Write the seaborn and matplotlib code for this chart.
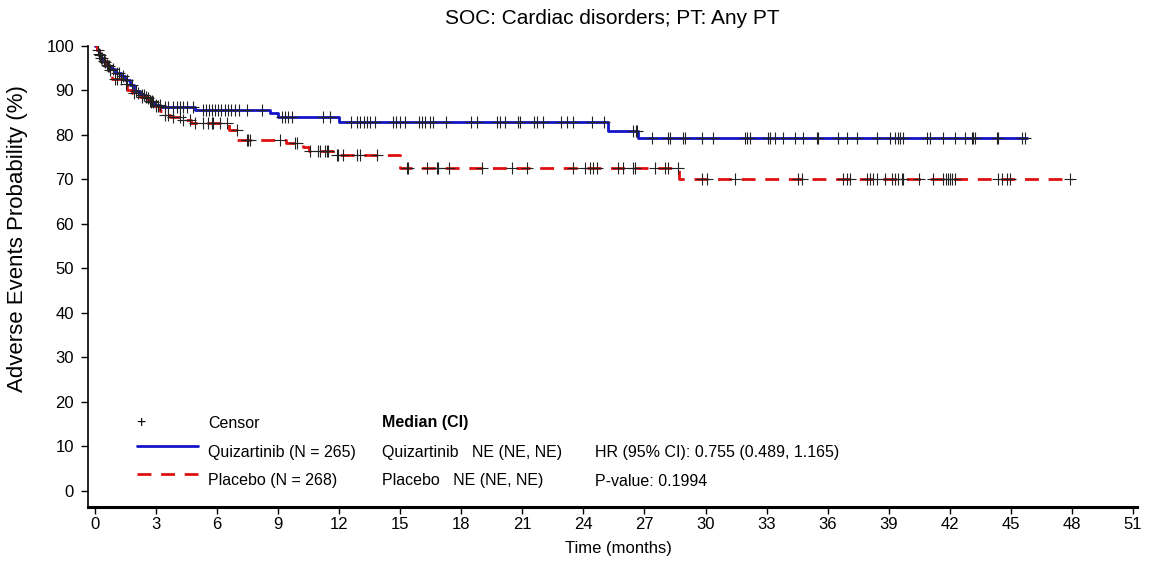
import numpy as np
import pandas as pd
import matplotlib
matplotlib.use("Agg")
import matplotlib.pyplot as plt
import seaborn as sns
from matplotlib.lines import Line2D

sns.set_style("ticks")
plt.rcParams['font.family'] = ['Liberation Sans', 'DejaVu Sans']
plt.rcParams['text.color'] = 'black'
plt.rcParams['axes.labelcolor'] = 'black'
plt.rcParams['xtick.color'] = 'black'
plt.rcParams['ytick.color'] = 'black'
plt.rcParams['axes.edgecolor'] = 'black'

# Kaplan-Meier step data (months, % without event)
quiz_time = [0, 0.1, 0.2, 0.3, 0.45, 0.6, 0.8, 1.0, 1.3, 1.5, 1.7, 1.9, 2.2, 2.5,
             2.7, 2.9, 3.2, 4.9, 8.6, 9.0, 12.0, 25.2, 26.7]
quiz_surv = [100, 99.0, 98.0, 97.2, 96.4, 95.6, 94.8, 94.0, 93.2, 92.4, 91.2, 89.9,
             89.0, 88.3, 87.5, 86.8, 86.4, 85.6, 84.9, 84.0, 82.9, 81.0, 79.4]
quiz_end = 45.8

plac_time = [0, 0.1, 0.2, 0.3, 0.4, 0.55, 0.7, 0.85, 1.5, 1.6, 1.8, 2.2, 2.6, 2.9,
             3.2, 3.4, 3.7, 4.2, 4.7, 6.6, 7.0, 9.4, 10.2, 10.5, 11.7, 15.0, 28.7]
plac_surv = [100, 99.2, 98.3, 97.4, 96.6, 95.8, 94.6, 92.6, 91.5, 90.2, 89.4, 88.6,
             87.6, 86.5, 85.4, 84.6, 84.1, 83.4, 82.6, 81.1, 78.9, 78.1, 77.4, 76.3,
             75.4, 72.5, 70.1]
plac_end = 48.0

# censored times
quiz_cens = [0.15, 0.25, 0.35, 0.5, 0.65, 0.7, 0.9, 1.1, 1.2, 1.4, 1.6, 1.8, 2.0,
             2.3, 2.4, 2.6, 2.75, 2.85, 3.0,
             3.19, 3.44, 3.6, 3.85, 4.01, 4.18, 4.34, 4.5, 4.83,
             5.3, 5.45, 5.6, 5.75, 5.9, 6.05, 6.2, 6.4, 6.55, 6.7, 6.9, 7.1, 7.45, 8.2,
             9.17, 9.34, 9.5, 9.67, 11.2, 11.55,
             12.6, 12.86, 13.0, 13.2, 13.35, 13.5, 13.76, 14.66, 14.8, 15.0, 15.23,
             15.9, 16.05, 16.2, 16.46, 16.6, 17.27, 18.5, 18.75, 19.74, 19.9, 20.15,
             20.8, 20.9, 21.55, 21.7, 22.0, 22.9, 23.2, 23.5, 24.4, 25.0,
             26.45, 26.6, 26.65,
             27.35, 28.17, 28.26, 28.91, 28.99, 29.81, 30.38, 31.94, 32.02, 32.19,
             33.09, 33.17, 33.42, 33.82, 34.4, 34.8, 35.46, 35.54, 36.53, 36.94,
             37.43, 38.41, 39.08, 39.31, 39.47, 39.56, 39.72, 40.87, 41.03, 41.68,
             42.26, 42.75, 43.08, 43.16, 43.24, 44.31, 44.39, 45.54, 45.7]
plac_cens = [0.2, 0.3, 0.45, 0.6, 0.75, 1.0, 1.1, 1.3, 1.55, 1.9, 2.1, 2.3, 2.5,
             2.7, 2.8, 3.0, 3.1,
             3.44, 3.6, 3.85, 4.18, 4.34, 4.67, 4.91, 5.32, 5.57, 5.73, 5.81,
             6.14, 6.47, 6.96, 7.45, 7.53, 7.62, 9.09, 9.83, 9.91,
             10.57, 10.97, 11.06, 11.3, 11.38, 11.46, 11.88, 11.96, 12.2, 12.86,
             13.02, 13.84,
             15.32, 15.4, 16.3, 16.79, 16.87, 17.4, 19.0, 20.47, 21.21, 23.5, 24.08,
             24.32, 24.49, 24.65, 25.71, 25.96, 26.45, 26.54, 27.52, 28.0, 28.17,
             28.66,
             29.81, 30.06, 31.45, 34.56, 34.73, 36.77, 36.94, 37.1, 37.92, 38.08,
             38.25, 38.41, 38.82, 39.15, 39.3, 39.47, 39.64, 39.72, 40.5, 41.2, 41.68,
             41.8, 41.9, 42.0, 42.1, 42.26, 44.39, 44.55, 44.8, 44.96, 47.9]

arms = ['Quizartinib', 'Placebo']
colors = {'Quizartinib': '#1414C8', 'Placebo': '#E01010'}
dash = (5, 3.5)


def step_frame(arm, times, surv, end):
    t = list(times) + [end]
    s = list(surv) + [surv[-1]]
    return pd.DataFrame({'time': t, 'surv': s, 'arm': arm})


def censor_frame(arm, times, surv, cens):
    idx = np.searchsorted(times, cens, side='right') - 1
    return pd.DataFrame({'time': cens, 'surv': np.array(surv)[idx], 'arm': arm})


curves = pd.concat([step_frame('Quizartinib', quiz_time, quiz_surv, quiz_end),
                    step_frame('Placebo', plac_time, plac_surv, plac_end)])
censors = pd.concat([censor_frame('Quizartinib', quiz_time, quiz_surv, quiz_cens),
                     censor_frame('Placebo', plac_time, plac_surv, plac_cens)])

W, H = 1154, 562
fig = plt.figure(figsize=(W / 100, H / 100), dpi=100)
ax = fig.add_axes([88 / W, 1 - 507 / H, (1137 - 88) / W, (507 - 46) / H])


def px(x, y):
    return x / W, 1 - y / H


sns.lineplot(data=curves, x='time', y='surv', hue='arm', style='arm',
             hue_order=arms, style_order=arms, palette=colors,
             dashes={'Quizartinib': '', 'Placebo': dash},
             drawstyle='steps-post', estimator=None, sort=False,
             linewidth=2.0, legend=False, ax=ax)
ax.plot(censors['time'], censors['surv'], linestyle='none', marker='+',
        markersize=8, markeredgewidth=0.8, color='#222222', zorder=5)

ax.set_xlim(-0.34, 51.2)
ax.set_ylim(-3.6, 100)
ax.set_xticks(np.arange(0, 52, 3))
ax.set_yticks(np.arange(0, 101, 10))
ax.tick_params(direction='out', length=5, width=1, labelsize=12)
ax.tick_params(axis='x', pad=2)
ax.tick_params(axis='y', pad=5)
sns.despine(ax=ax)
ax.spines['bottom'].set_linewidth(2.2)
ax.spines['left'].set_linewidth(1.2)
ax.grid(False)

ax.set_title('SOC: Cardiac disorders; PT: Any PT', fontsize=15, pad=16)
ax.set_xlabel('Time (months)', fontsize=12)
ax.set_ylabel('')
ax.xaxis.set_label_coords(0.506, -0.074)
fig.text(*px(18, 239), 'Adverse Events Probability (%)', fontsize=16,
         rotation=90, ha='center', va='center')

# legend / statistics block
fs = 11.5
fig.text(*px(141, 423), '+', fontsize=fs, ha='center', va='center')
fig.add_artist(Line2D([137 / W, 198 / W], [1 - 446 / H] * 2, color=colors['Quizartinib'],
                      linewidth=2.0))
fig.add_artist(Line2D([137 / W, 198 / W], [1 - 474 / H] * 2, color=colors['Placebo'],
                      linewidth=2.0, dashes=dash))
fig.text(*px(208, 423), 'Censor', fontsize=fs, va='center')
fig.text(*px(208, 453), 'Quizartinib (N = 265)', fontsize=fs, va='center')
fig.text(*px(208, 481), 'Placebo (N = 268)', fontsize=fs, va='center')
fig.text(*px(382, 423), 'Median (CI)', fontsize=fs, va='center', fontweight='bold')
fig.text(*px(382, 453), 'Quizartinib   NE (NE, NE)', fontsize=fs, va='center')
fig.text(*px(382, 481), 'Placebo   NE (NE, NE)', fontsize=fs, va='center')
fig.text(*px(595, 453), 'HR (95% CI): 0.755 (0.489, 1.165)', fontsize=fs, va='center')
fig.text(*px(595, 481), 'P-value: 0.1994', fontsize=fs, va='center')

fig.savefig('out.png', dpi=100)
